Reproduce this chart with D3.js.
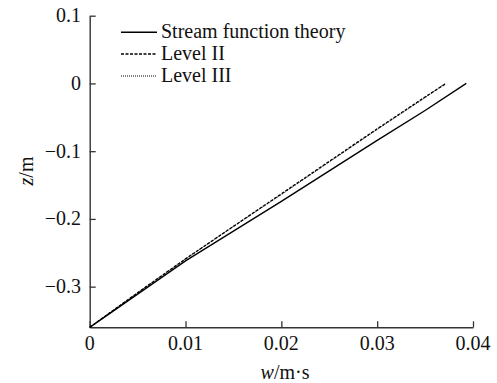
<!DOCTYPE html>
<html>
<head>
<meta charset="utf-8">
<script src="https://cdn.jsdelivr.net/npm/d3@7"></script>
<style>
  html, body { margin: 0; padding: 0; background: #fff; }
  svg { display: block; }
</style>
</head>
<body>
<svg id="chart" width="497" height="383"></svg>
<script>
// Vertical velocity w (m/s) against depth z (m)
const wStream = [0, 0.005, 0.01, 0.015, 0.02, 0.025, 0.03, 0.035, 0.0393];
const zStream = [-0.36, -0.311, -0.262, -0.218, -0.174, -0.129, -0.084, -0.040, 0];

const wLevel2 = [0, 0.005, 0.01, 0.015, 0.02, 0.025, 0.03, 0.035, 0.0372];
const zLevel2 = [-0.36, -0.309, -0.259, -0.211, -0.163, -0.115, -0.067, -0.020, 0];

const wLevel3 = [0, 0.005, 0.01, 0.015, 0.02, 0.025, 0.03, 0.035, 0.0371];
const zLevel3 = [-0.36, -0.309, -0.259, -0.211, -0.164, -0.116, -0.068, -0.021, 0];

const seriesNames = ["Stream function theory", "Level II", "Level III"];
const xTicks = [0, 0.01, 0.02, 0.03, 0.04];
const xTickLabels = ["0", "0.01", "0.02", "0.03", "0.04"];
const yTicks = [0.1, 0, -0.1, -0.2, -0.3];
const yTickLabels = ["0.1", "0", "\u22120.1", "\u22120.2", "\u22120.3"];

const FONT = "'Liberation Serif', 'Times New Roman', Times, serif";

const svg = d3.select("#chart");
const plotLeft = 89.7, plotRight = 473, plotTop = 15.7, plotBottom = 327.3;

const x = d3.scaleLinear().domain([0, 0.04]).range([plotLeft, plotRight]);
const y = d3.scaleLinear().domain([-0.36, 0.1]).range([plotBottom, plotTop]);

const axisColor = "#333";

// Axes with inward ticks
const xAxis = svg.append("g").attr("transform", `translate(0,${plotBottom})`)
  .call(d3.axisTop(x).tickValues(xTicks).tickSize(6).tickSizeOuter(0).tickFormat(""));
const yAxis = svg.append("g").attr("transform", `translate(${plotLeft},0)`)
  .call(d3.axisRight(y).tickValues(yTicks).tickSize(6).tickSizeOuter(0).tickFormat(""));
[xAxis, yAxis].forEach(g => {
  g.selectAll("path.domain").attr("stroke", axisColor).attr("stroke-width", 1.4);
  g.selectAll(".tick line").attr("stroke", axisColor).attr("stroke-width", 1.3);
});

const textLayer = svg.append("g")
  .attr("font-family", FONT)
  .attr("fill", "#111");

// Tick labels
textLayer.append("g").selectAll("text").data(xTicks).join("text")
  .attr("x", d => x(d)).attr("y", 350)
  .attr("text-anchor", "middle").attr("font-size", 20)
  .text((d, i) => xTickLabels[i]);
textLayer.append("g").selectAll("text").data(yTicks).join("text")
  .attr("x", 81).attr("y", d => y(d) + 6.5)
  .attr("text-anchor", "end").attr("font-size", 20)
  .text((d, i) => yTickLabels[i]);

// Axis titles
const xt = textLayer.append("text").attr("x", 285).attr("y", 379)
  .attr("text-anchor", "middle").attr("font-size", 20);
xt.append("tspan").attr("font-style", "italic").text("w");
xt.append("tspan").text("/m\u00b7s");

const yt = textLayer.append("text")
  .attr("transform", "translate(33,171) rotate(-90)")
  .attr("text-anchor", "middle").attr("font-size", 20);
yt.append("tspan").attr("font-style", "italic").text("z");
yt.append("tspan").text("/m");

// Curves
const line = d3.line().x(d => x(d[0])).y(d => y(d[1]));
const series = [
  { w: wStream, z: zStream, dash: null, width: 1.4 },
  { w: wLevel2, z: zLevel2, dash: "3,1.5", width: 1.3 },
  { w: wLevel3, z: zLevel3, dash: "1,1", width: 1.0 }
];
series.forEach(s => {
  svg.append("path")
    .datum(s.w.map((v, i) => [v, s.z[i]]))
    .attr("d", line)
    .attr("fill", "none")
    .attr("stroke", "#000")
    .attr("stroke-width", s.width)
    .attr("stroke-dasharray", s.dash);
});

// Legend
const legY = [32.3, 54, 76];
series.forEach((s, i) => {
  svg.append("line")
    .attr("x1", 121).attr("x2", 157)
    .attr("y1", legY[i]).attr("y2", legY[i])
    .attr("stroke", "#000").attr("stroke-width", s.width)
    .attr("stroke-dasharray", s.dash);
  textLayer.append("text")
    .attr("x", 161).attr("y", legY[i] + 6)
    .attr("font-size", 20)
    .text(seriesNames[i]);
});
</script>
</body>
</html>
